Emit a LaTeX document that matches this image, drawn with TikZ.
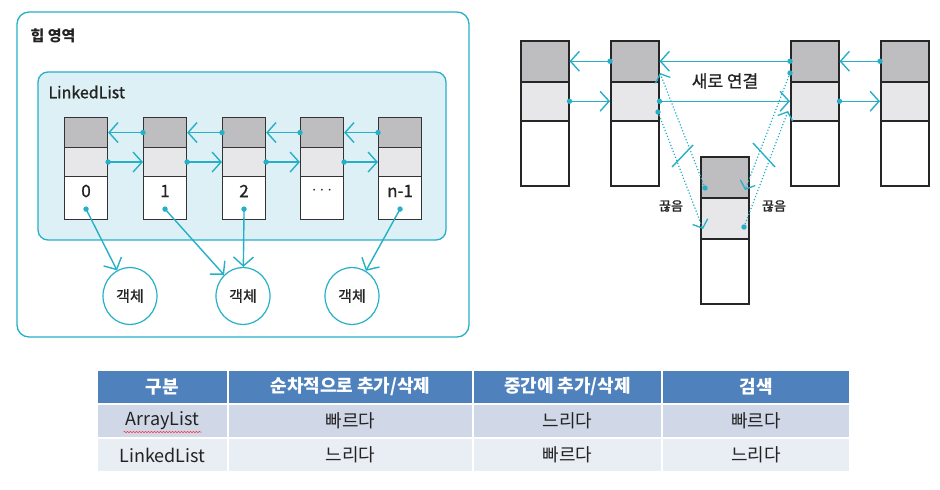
\documentclass[tikz,border=0pt]{standalone}
\usepackage{fontspec}
\setmainfont{Noto Sans CJK KR}
\usetikzlibrary{arrows.meta,calc,shapes.geometric,decorations.pathmorphing}
\definecolor{cy}{RGB}{38,176,200}
\definecolor{cyfill}{RGB}{221,240,245}
\definecolor{dk}{RGB}{190,190,193}
\definecolor{lt}{RGB}{231,231,233}
\definecolor{hdr}{RGB}{79,129,189}
\definecolor{rowa}{RGB}{208,216,232}
\definecolor{rowb}{RGB}{233,237,244}
\definecolor{txt}{RGB}{35,35,35}
\newcommand{\semib}{\addfontfeature{FakeBold=1}}
\tikzset{
  vtip/.tip={Straight Barb[length=9pt, width=20pt, line width=1.4pt]},
  vtipsmall/.tip={Straight Barb[length=7pt, width=16pt, line width=1.3pt]}
}
\begin{document}
\begin{tikzpicture}[x=1pt,y=-1pt,
  sec/.style={draw=black!80, line width=1.1pt, minimum width=43pt, inner sep=0pt, anchor=north west},
  rsec/.style={draw=black!85, line width=1.5pt, minimum width=48pt, inner sep=0pt, anchor=north west},
  link/.style={draw=cy, line width=1.4pt, -vtip},
  dlink/.style={draw=cy, line width=1.2pt, dotted, -vtipsmall},
  obj/.style={ellipse, draw=cy, line width=1.2pt, minimum width=54pt, minimum height=57pt, inner sep=0pt, font=\fontsize{15}{15}\selectfont\semib, text=txt},
  cell/.style={draw=white, line width=2pt, inner sep=0pt, font=\fontsize{18}{18}\selectfont, text=txt},
  hcell/.style={cell, fill=hdr, text=white, font=\fontsize{18}{18}\selectfont\bfseries},
  dotc/.style={fill=cy}
]
\useasboundingbox (0,0) rectangle (940,490);
\fill[white] (0,0) rectangle (940,490);

% ---------- left panel ----------
\draw[cy, line width=1.3pt, rounded corners=12pt] (17,12) rectangle (469,337);
\node[anchor=west, font=\fontsize{15}{15}\selectfont\bfseries, text=txt] (heap) at (27,36) {힙 영역};
\draw[cy, fill=cyfill, line width=1.3pt, rounded corners=10pt] (38,72) rectangle (446,240);
\node[anchor=west, font=\fontsize{16}{16}\selectfont\semib, text=txt] (ll) at (45,92) {LinkedList};

\foreach \i/\x/\t in {0/64/0, 1/143/1, 2/222/2, 3/300/{$\cdots$}, 4/378/n-1} {
  \node[sec, fill=dk, minimum height=30pt] (g\i) at (\x,117) {};
  \node[sec, fill=lt, minimum height=29pt] (l\i) at (\x,147) {};
  \node[sec, fill=white, minimum height=43pt] (w\i) at (\x,176) {};
  \node[font=\fontsize{17}{17}\selectfont\semib, text=txt] (t\i) at ($(w\i.north)+(0,15)$) {\t};
}
\foreach \i/\j in {0/1,1/2,2/3,3/4} {
  \draw[link] (g\j.west) -- (g\i.east);
  \fill[dotc] (g\j.west) circle (2.7pt);
  \draw[link] (l\i.east) -- (l\j.west);
  \fill[dotc] (l\i.east) circle (2.7pt);
}
\foreach \i in {0,1,2,4} {
  \coordinate (d\i) at ($(w\i.south)+(0,-11)$);
}
\node[obj] (o1) at (130,296) {객체};
\node[obj] (o2) at (243,296) {객체};
\node[obj] (o3) at (352,296) {객체};
\draw[link] (d0) -- (o1);
\draw[link] (d1) -- (o2);
\draw[link] (d2) -- (o2);
\draw[link] (d4) -- (o3);
\foreach \i in {0,1,2,4} { \fill[dotc] (d\i) circle (2.7pt); }

% ---------- right panel ----------
\foreach \n/\x in {A/520, B/610, C/790, D/880} {
  \node[rsec, fill=dk, minimum height=41pt] (\n g) at (\x,40) {};
  \node[rsec, fill=lt, minimum height=39pt] (\n l) at (\x,81) {};
  \node[rsec, fill=white, minimum height=65pt] (\n w) at (\x,120) {};
}
\node[rsec, fill=dk, minimum height=41pt] (Eg) at (700,156) {};
\node[rsec, fill=lt, minimum height=41pt] (El) at (700,197) {};
\node[rsec, fill=white, minimum height=65pt] (Ew) at (700,238) {};

\draw[link] (Bg.west) -- (Ag.east);
\draw[link] (Al.east) -- (Bl.west);
\draw[link] (Cg.west) -- (Bg.east);
\draw[link] (Bl.east) -- (Cl.west);
\draw[link] (Dg.west) -- (Cg.east);
\draw[link] (Cl.east) -- (Dl.west);
\foreach \p in {Bg.west, Al.east, Cg.west, Bl.east, Dg.west, Cl.east} { \fill[dotc] (\p) circle (2.7pt); }

\coordinate (e1) at (705,188);
\coordinate (b1) at (660,73);
\coordinate (b2) at (658,112);
\coordinate (e2) at (703,229);
\coordinate (c1) at (790,73);
\coordinate (e3) at (745,190);
\coordinate (e4) at (744,227);
\coordinate (c2) at (788,111);
\draw[dlink] (e1) -- (b1);
\draw[dlink] (b2) -- (e2);
\draw[dlink] (c1) -- (e3);
\draw[dlink] (e4) -- (c2);
\foreach \p in {e1,b2,c1,e4} { \fill[dotc] (\p) circle (2.7pt); }

\draw[cy, line width=1.4pt] (672,167) -- (693,145);
\draw[cy, line width=1.4pt] (753,143) -- (775,167);

\node[font=\fontsize{17}{17}\selectfont\semib, text=txt, fill=white, inner sep=1pt] (nl) at (725,81) {새로 연결};
\node[font=\fontsize{13}{13}\selectfont\semib, text=txt] (k1) at (671,206) {끊음};
\node[font=\fontsize{13}{13}\selectfont\semib, text=txt] (k2) at (774,206) {끊음};

% ---------- table ----------
\node[hcell, minimum width=131pt, minimum height=34pt] (h1) at (162.5,387) {구분};
\node[hcell, minimum width=245pt, minimum height=34pt] (h2) at (350.5,387) {순차적으로 추가/삭제};
\node[hcell, minimum width=189pt, minimum height=34pt] (h3) at (567.5,387) {중간에 추가/삭제};
\node[hcell, minimum width=188pt, minimum height=34pt] (h4) at (756,387) {검색};

\node[cell, fill=rowa, minimum width=131pt, minimum height=34pt] (a1) at (162.5,421) {ArrayList};
\node[cell, fill=rowa, minimum width=245pt, minimum height=34pt] (a2) at (350.5,421) {빠르다};
\node[cell, fill=rowa, minimum width=189pt, minimum height=34pt] (a3) at (567.5,421) {느리다};
\node[cell, fill=rowa, minimum width=188pt, minimum height=34pt] (a4) at (756,421) {빠르다};

\node[cell, fill=rowb, minimum width=131pt, minimum height=34pt] (r1) at (162.5,455) {LinkedList};
\node[cell, fill=rowb, minimum width=245pt, minimum height=34pt] (r2) at (350.5,455) {느리다};
\node[cell, fill=rowb, minimum width=189pt, minimum height=34pt] (r3) at (567.5,455) {빠르다};
\node[cell, fill=rowb, minimum width=188pt, minimum height=34pt] (r4) at (756,455) {느리다};

\draw[red!80, line width=0.5pt, decorate, decoration={snake, amplitude=0.7pt, segment length=3pt}]
  ($(a1.center)+(-39,11)$) -- ($(a1.center)+(39,11)$);
\end{tikzpicture}
\end{document}
